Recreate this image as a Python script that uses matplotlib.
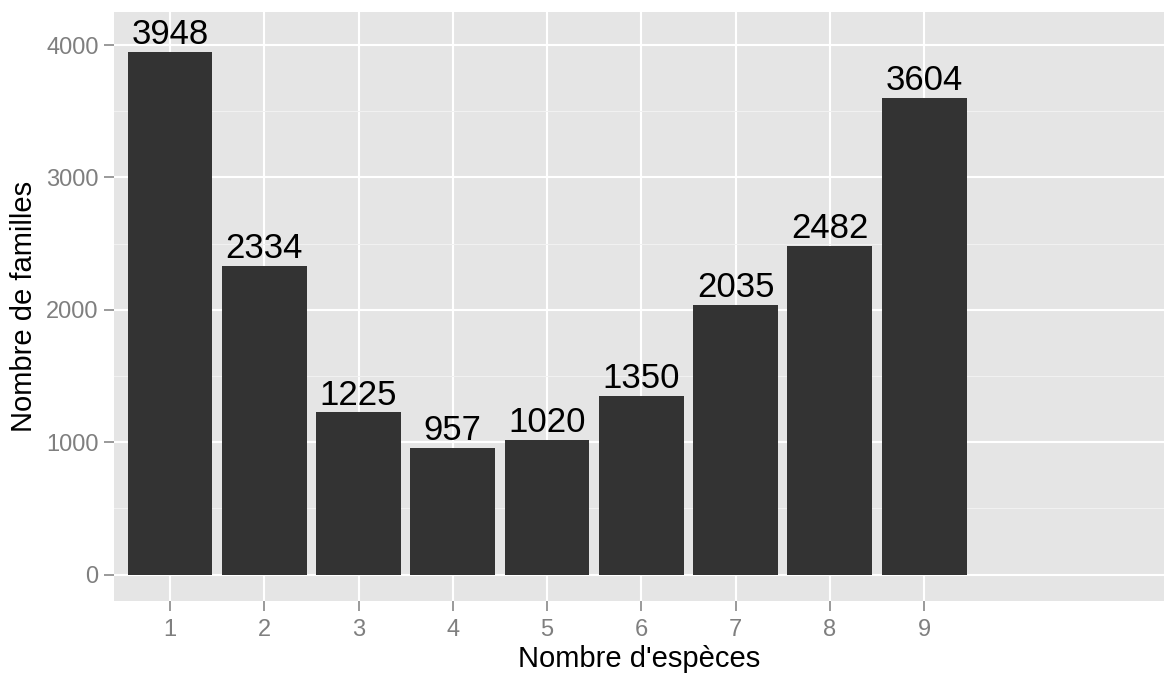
import numpy as np
import matplotlib
matplotlib.use("Agg")
from matplotlib import pyplot as plt
from matplotlib.ticker import MultipleLocator

# data
especes = [1, 2, 3, 4, 5, 6, 7, 8, 9]
familles = [3948, 2334, 1225, 957, 1020, 1350, 2035, 2482, 3604]

plt.rcParams['font.family'] = ['Liberation Sans', 'DejaVu Sans']

fig = plt.figure(figsize=(11.64, 6.73), dpi=100)
# panel box in pixels: left 114, right 1164, top 12, bottom 601
ax = fig.add_axes([114 / 1164, 1 - 601 / 673, (1164 - 114) / 1164, (601 - 12) / 673])
ax.set_facecolor('#e5e5e5')
for s in ax.spines.values():
    s.set_visible(False)

ax.set_xlim(0.406, 11.545)
ax.set_ylim(-200, 4250)

ax.yaxis.set_major_locator(MultipleLocator(1000))
ax.yaxis.set_minor_locator(MultipleLocator(500))
ax.set_xticks(especes)
ax.set_xticklabels([str(e) for e in especes])

ax.grid(which='major', color='white', linewidth=1.5)
ax.grid(which='minor', axis='y', color='#f2f2f2', linewidth=0.7)
ax.set_axisbelow(True)

ax.tick_params(which='major', length=7, width=1.1, color='#7f7f7f',
               labelcolor='#7f7f7f', labelsize=17, pad=4)
ax.tick_params(axis='x', pad=6)
ax.tick_params(which='minor', length=0)

bars = ax.bar(especes, familles, width=0.9, color='#333333', zorder=3)
for x, v in zip(especes, familles):
    ax.annotate(str(v), (x, v), xytext=(0, 0.5), textcoords='offset points',
                ha='center', va='bottom', fontsize=25, color='black', zorder=4)

ax.set_xlabel("Nombre d'espèces", fontsize=21, labelpad=3)
ax.set_ylabel("Nombre de familles", fontsize=21, labelpad=6)

fig.savefig("out.png", dpi=100)
